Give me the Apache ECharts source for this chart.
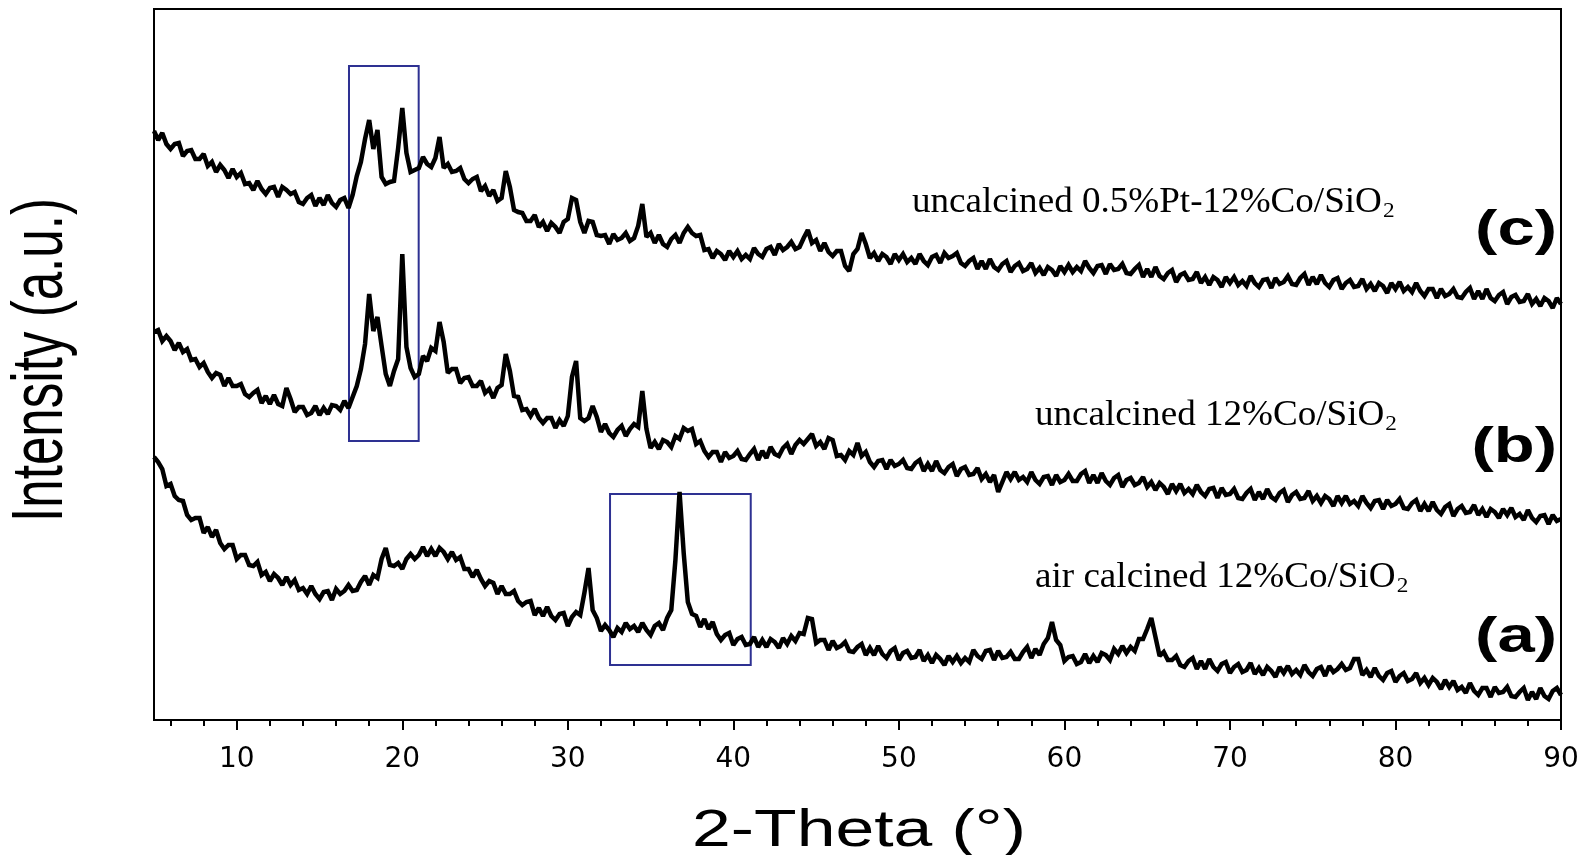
<!DOCTYPE html>
<html><head><meta charset="utf-8">
<script src="https://cdn.jsdelivr.net/npm/echarts@6/dist/echarts.min.js"></script>
<style>html,body{margin:0;padding:0;background:#fff}#chart{width:1589px;height:855px}</style>
</head><body><div id="chart"></div>
<script>
// 2-Theta grid of the scan (degrees)
const thetaStart = 5, thetaStep = 0.25;

// (a) air calcined 12%Co/SiO2  (arbitrary intensity units)
const intensityA = [
263,258,251,234, 236,224,220,219, 205,200,202,202, 187,193,183,190, 177,171,175,175,
161,165,165,155, 154,158,145,148, 139,146,142,135, 143,135,140,130, 132,126,134,126,
121,128,129,120, 131,126,129,135, 129,130,138,144, 135,145,142,161, 172,155,154,157,
151,161,166,161, 165,173,164,171, 164,172,168,161, 168,160,163,151, 151,143,150,141,
134,139,137,126, 134,126,126,129, 119,115,118,119, 105,112,104,113, 104,100,106,107,
94,103,108,105, 127,152,110,102, 89,95,90,83, 92,88,97,91, 94,88,97,90,
85,94,97,90, 102,110,160,228, 167,118,106,104, 93,101,91,98, 86,80,85,87,
75,81,83,75, 76,83,73,80, 73,81,78,72, 82,76,84,79, 87,86,102,101,
77,80,80,70, 79,72,74,78, 69,68,73,76, 65,72,65,74, 66,62,69,72,
60,67,69,62, 63,70,59,65, 57,65,61,55, 64,58,64,57, 62,58,70,64,
61,69,70,60, 69,62,63,68, 61,61,68,73, 62,71,65,76, 82,98,80,75,
59,63,64,56, 58,66,57,64, 58,67,65,60, 71,66,74,67, 73,69,81,81,
91,102,83,64, 68,60,60,64, 55,53,59,62, 51,59,51,61, 53,49,56,58,
47,53,56,48, 50,57,46,52, 45,53,49,43, 53,47,54,46, 50,45,55,48,
44,51,53,44, 54,48,51,56, 50,52,61,61, 45,50,43,52, 44,40,47,49,
38,44,47,39, 41,47,37,42, 35,42,38,31, 40,33,39,30, 33,27,37,29,
25,32,32,23, 33,27,28,33, 24,23,28,32, 20,28,21,32, 24,21,29,32,
25];

// (b) uncalcined 12%Co/SiO2
const intensityB = [
388,390,379,384, 379,370,377,368, 371,360,361,353, 357,348,342,347, 345,334,342,334,
334,336,326,323, 327,330,317,324, 316,325,316,314, 332,321,308,313, 313,305,307,314,
305,312,306,315, 314,310,319,312, 323,334,351,376, 426,389,403,374, 346,334,349,361,
466,373,352,343, 346,364,359,372, 369,398,378,347, 351,351,337,342, 343,334,334,339,
327,331,322,332, 335,366,349,324, 323,310,311,304, 311,302,297,302, 302,292,300,294,
304,343,359,302, 299,302,314,303, 288,296,287,283, 290,294,284,291, 296,293,329,291,
272,278,271,280, 278,273,284,281, 292,289,291,276, 279,269,263,268, 268,258,268,262,
264,269,261,260, 266,271,260,269, 262,273,266,264, 272,276,266,275, 280,276,281,286,
274,278,271,282, 280,264,265,260, 269,265,277,264, 268,258,253,259, 260,251,260,254,
256,260,252,251, 257,260,249,256, 249,259,250,247, 253,256,244,251, 253,245,246,252,
241,246,238,245, 228,238,248,241, 248,240,243,238, 248,240,236,243, 244,235,245,238,
240,246,239,239, 246,249,237,245, 237,247,239,235, 242,245,233,240, 242,235,237,243,
233,238,230,237, 233,226,236,229, 236,227,231,226, 235,228,224,231, 232,222,232,225,
226,231,222,221, 227,231,220,228, 221,231,223,220, 227,230,218,225, 228,221,222,229,
219,224,217,224, 221,214,224,217, 224,216,219,214, 224,217,212,219, 220,211,220,214,
216,221,212,211, 217,220,209,216, 209,218,210,206, 213,216,204,211, 214,207,208,215,
205,211,203,211, 208,202,211,205, 212,203,206,200, 210,202,198,204, 205,196,205,199,
201];

// (c) uncalcined 0.5%Pt-12%Co/SiO2
const intensityC = [
589,580,587,576, 571,576,577,564, 569,570,561,561, 566,554,558,548, 555,550,542,551,
543,547,536,537, 530,539,531,526, 532,533,523,533, 530,526,528,518, 516,522,525,514,
522,515,525,517, 513,520,522,512, 525,544,558,581, 600,571,590,543, 536,538,539,572,
612,567,548,550, 552,563,556,553, 562,583,552,556, 548,549,552,541, 537,541,543,529,
534,524,530,519, 522,549,533,510, 508,507,499,499, 505,493,498,489, 497,493,487,498,
501,522,520,498, 487,499,498,485, 484,485,476,486, 480,482,487,479, 482,494,516,483,
487,477,485,476, 473,481,485,477, 487,493,487,484, 485,470,471,462, 469,466,460,469,
463,469,461,465, 461,472,466,463, 471,473,465,476, 470,473,478,471, 473,482,490,477,
480,469,477,468, 464,469,469,454, 449,466,471,487, 476,462,467,459, 466,463,456,466,
460,466,458,462, 456,466,459,455, 463,465,457,467, 462,464,467,457, 454,459,462,451,
459,451,461,453, 450,456,459,448, 454,457,449,451, 457,447,452,445, 453,450,444,454,
448,455,448,453, 449,459,452,447, 454,455,446,456, 450,451,456,447, 446,451,455,443,
451,443,453,444, 441,447,450,438, 445,447,440,441, 448,437,443,435, 443,440,433,443,
437,443,435,439, 434,444,437,433, 440,441,432,442, 436,438,444,436, 435,442,446,435,
443,436,445,437, 433,440,442,431, 437,440,433,434, 441,431,436,429, 437,434,427,437,
431,438,429,433, 428,437,429,424, 431,431,422,431, 424,426,431,423, 422,428,432,421,
429,421,431,422, 419,425,428,416, 423,425,418,419, 426,416,421,414, 422,419,412,422,
416];

const xMajorTicks = [10, 20, 30, 40, 50, 60, 70, 80, 90];
const xMinorTicks = [6, 8, 12, 14, 16, 18, 22, 24, 26, 28, 32, 34, 36, 38, 42, 44, 46, 48,
                     52, 54, 56, 58, 62, 64, 66, 68, 72, 74, 76, 78, 82, 84, 86, 88];
// highlighted regions (2-Theta range, intensity range)
const boxX = [[16.78, 20.99], [32.55, 41.05]];
const boxY = [[279, 654], [55, 226]];

const sampleTags = ['(a)', '(b)', '(c)'];
const sampleNames = ['air calcined 12%Co/SiO', 'uncalcined 12%Co/SiO', 'uncalcined 0.5%Pt-12%Co/SiO'];

const toPairs = vals => vals.map((v, i) => [thetaStart + i * thetaStep, v]);

const chart = echarts.init(document.getElementById('chart'), null, {renderer: 'canvas'});
const lineSeries = [intensityA, intensityB, intensityC].map((vals, k) => ({
  name: sampleTags[k],
  type: 'line',
  xAxisIndex: 0,
  data: toPairs(vals),
  showSymbol: false,
  symbol: 'none',
  lineStyle: {color: '#000', width: 4.5, join: 'miter', miterLimit: 2},
  itemStyle: {color: '#000'},
  silent: true,
  z: 3
}));
lineSeries[2].markArea = {
  silent: true,
  itemStyle: {color: 'rgba(0,0,0,0)', borderColor: '#2e3192', borderWidth: 2},
  data: boxX.map((bx, k) => [{coord: [bx[0], boxY[k][0]]}, {coord: [bx[1], boxY[k][1]]}])
};

const sans = '"Liberation Sans", Arial, Helvetica, sans-serif';
const serif = '"Times New Roman", "Liberation Serif", Times, serif';
const labelRows = [578, 416, 203];
const labelLeft = [1035, 1035, 912];
const tagRows = [638, 448, 231];

const graphics = [
  {type: 'text', x: 42, y: 360, rotation: Math.PI / 2, scaleX: 0.71, z: 10,
   style: {text: 'Intensity (a.u.)', fontSize: 72, fontFamily: sans, fill: '#000', align: 'center', verticalAlign: 'middle'}},
  {type: 'text', x: 859, y: 832, scaleX: 1.34, z: 10,
   style: {text: '2-Theta (°)', fontSize: 52, fontFamily: sans, fill: '#000', align: 'center', verticalAlign: 'middle'}}
];
sampleTags.forEach((t, k) => {
  graphics.push({type: 'text', x: 1557, y: tagRows[k], scaleX: 1.34, z: 10,
    style: {text: t, fontSize: 50, fontWeight: 'bold', fontFamily: sans, fill: '#000', align: 'right', verticalAlign: 'middle'}});
  graphics.push({type: 'text', x: labelLeft[k], y: labelRows[k], scaleX: 1.06, z: 10,
    style: {text: '{n|' + sampleNames[k] + '}{s|2}', fill: '#000', align: 'left', verticalAlign: 'middle',
      rich: {
        n: {fontSize: 35, fontFamily: serif, fill: '#000'},
        s: {fontSize: 22, fontFamily: serif, fill: '#000', padding: [16, 0, 0, 1]}
      }}});
});

chart.setOption({
  animation: false,
  backgroundColor: '#fff',
  grid: {left: 154, right: 28, top: 9, bottom: 135, show: true, borderColor: '#000', borderWidth: 2, backgroundColor: 'rgba(0,0,0,0)'},
  xAxis: [{
    type: 'value', min: 5, max: 90, position: 'bottom',
    axisLine: {show: true, onZero: false, lineStyle: {color: '#000', width: 2}},
    axisTick: {show: true, inside: false, length: 10, customValues: xMajorTicks, lineStyle: {color: '#000', width: 2}},
    axisLabel: {show: true, customValues: xMajorTicks, color: '#000', fontSize: 28, fontFamily: '"DejaVu Sans", sans-serif', margin: 26},
    splitLine: {show: false}
  }, {
    type: 'value', min: 5, max: 90, position: 'bottom', gridIndex: 0,
    axisLine: {show: false},
    axisTick: {show: true, inside: false, length: 6, customValues: xMinorTicks, lineStyle: {color: '#000', width: 2}},
    axisLabel: {show: false},
    splitLine: {show: false}
  }],
  yAxis: {
    type: 'value', min: 0, max: 711,
    axisLine: {show: true, lineStyle: {color: '#000', width: 2}},
    axisTick: {show: false}, axisLabel: {show: false}, splitLine: {show: false}
  },
  series: lineSeries,
  graphic: graphics
});
</script></body></html>
